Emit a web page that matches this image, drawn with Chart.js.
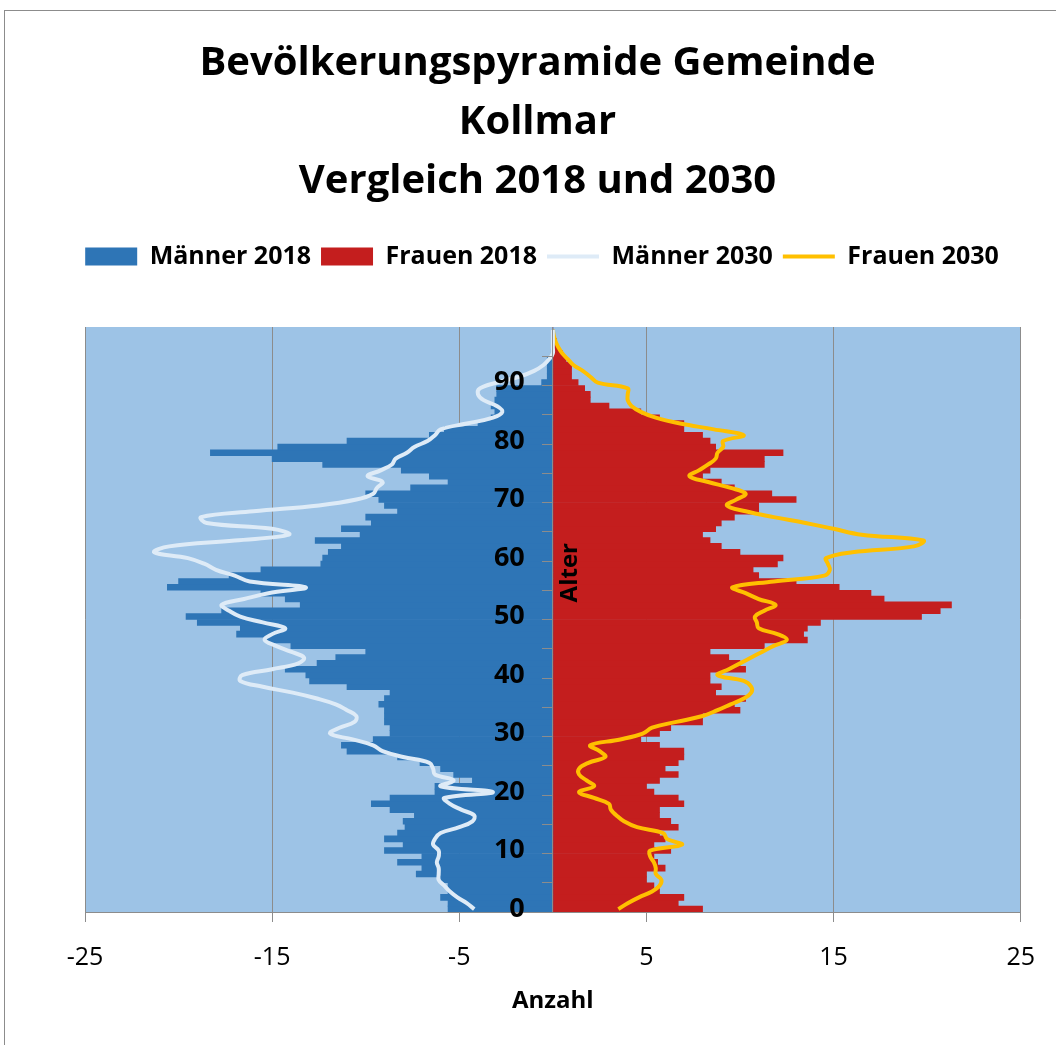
<!DOCTYPE html>
<html lang="de">
<head>
<meta charset="UTF-8">
<title>Bevölkerungspyramide Kollmar</title>
<script src="https://cdn.jsdelivr.net/npm/chart.js"></script>
<style>
  body { margin: 0; background: #fff; font-family: 'Open Sans', sans-serif; }
  .frame { position: absolute; left: 4px; top: 10px; width: 1100px; height: 1100px; border: 1px solid #8c8c8c; }
  .wrap { position: absolute; left: 0; top: 0; width: 1056px; height: 1045px; }
</style>
</head>
<body>
<div class="frame"></div>
<div class="wrap"><canvas id="pyramid"></canvas></div>
<script>
// Altersjahre 0..99 (Kategorien der y-Achse)
const ages = Array.from({ length: 100 }, (_, i) => String(i));

const maenner2018 = [
  -5.6, -5.6, -6.0, -5.6, -5.6, -6.0, -7.3, -7.0, -8.3, -7.0,
  -9.0, -8.0, -9.0, -8.3, -7.9, -8.0, -7.4, -8.7, -9.7, -8.7,
  -6.3, -6.3, -4.3, -5.3, -6.0, -7.1, -8.3, -11.0, -11.3, -9.6,
  -8.7, -8.7, -9.0, -9.0, -9.0, -9.3, -9.0, -8.7, -11.0, -13.0,
  -13.2, -14.3, -12.6, -11.6, -10.0, -14.0, -15.3, -16.9, -16.7, -19.0,
  -19.6, -17.7, -13.5, -14.3, -15.6, -20.6, -20.0, -17.3, -15.6, -12.4,
  -12.3, -12.0, -11.3, -12.7, -10.3, -11.3, -9.7, -10.0, -8.3, -9.0,
  -9.3, -10.0, -7.6, -5.6, -6.6, -8.1, -12.3, -15.0, -18.3, -14.7,
  -11.0, -6.6, -5.8, -4.0, -3.3, -3.1, -3.3, -3.1, -3.0, -3.0,
  -0.6, -0.3, -0.3, -0.3, -0.3, 0, 0, 0, 0, 0
];

const frauen2018 = [
  8.0, 6.7, 7.0, 5.7, 5.4, 5.0, 5.0, 6.0, 5.6, 5.4,
  6.3, 5.4, 6.0, 5.7, 6.7, 6.3, 5.7, 5.7, 7.0, 6.7,
  5.4, 5.0, 5.7, 6.7, 6.0, 6.7, 7.0, 7.0, 5.7, 4.7,
  5.7, 6.3, 8.0, 8.0, 10.0, 9.7, 10.3, 8.7, 9.0, 8.4,
  8.4, 10.3, 10.0, 9.4, 8.4, 11.3, 13.6, 13.4, 13.6, 14.3,
  19.7, 20.7, 21.3, 17.7, 17.0, 15.3, 13.0, 11.0, 10.7, 12.0,
  12.3, 10.0, 9.0, 8.4, 8.0, 8.7, 9.0, 9.7, 11.0, 11.0,
  13.0, 11.7, 9.7, 9.0, 8.0, 8.4, 11.3, 11.3, 12.3, 8.7,
  8.4, 8.0, 7.0, 7.0, 5.7, 4.7, 3.0, 2.0, 2.0, 1.7,
  1.35, 1.0, 1.0, 1.0, 0.7, 0.5, 0.3, 0.2, 0, 0
];

const maenner2030 = [
  -4.2, -4.6, -5.1, -5.5, -5.8, -6.1, -6.1, -6.1, -6.2, -6.1,
  -6.1, -6.4, -6.3, -6.0, -5.0, -4.3, -4.2, -4.9, -5.5, -5.8,
  -3.2, -6.0, -5.3, -6.3, -6.4, -6.6, -8.0, -9.1, -9.6, -10.7,
  -11.9, -11.4, -10.6, -10.5, -11.0, -11.6, -12.6, -13.9, -15.5, -16.7,
  -16.6, -15.0, -13.6, -13.3, -14.0, -14.8, -15.4, -15.0, -14.3, -15.5,
  -16.7, -17.3, -17.7, -16.5, -15.2, -13.2, -16.2, -17.0, -18.0, -18.6,
  -19.5, -21.3, -20.5, -17.0, -14.1, -15.0, -18.5, -18.8, -16.0, -12.5,
  -10.5, -9.6, -9.4, -9.1, -9.9, -9.2, -8.6, -8.4, -7.8, -7.4,
  -6.7, -6.3, -6.0, -4.6, -3.2, -2.7, -3.0, -3.7, -4.0, -3.9,
  -3.0, -1.8, -1.0, -0.5, -0.2, 0, 0, 0, 0, 0
];

const frauen2030 = [
  3.5, 4.0, 4.6, 5.3, 5.7, 5.8, 5.5, 5.5, 5.4, 5.2,
  5.2, 6.9, 6.1, 5.9, 4.5, 3.8, 3.4, 3.1, 3.0, 2.2,
  1.4, 2.2, 1.8, 1.4, 1.4, 1.9, 2.8, 2.5, 2.0, 3.6,
  4.8, 5.3, 6.6, 8.0, 8.8, 9.5, 10.2, 10.6, 10.6, 10.2,
  8.8, 9.4, 10.0, 10.6, 11.2, 11.8, 12.5, 12.0, 11.0, 10.9,
  10.8, 11.3, 11.9, 11.0, 10.3, 9.6, 11.8, 14.5, 14.8, 14.7,
  14.6, 16.0, 19.3, 19.8, 16.5, 15.0, 13.5, 11.8, 10.3, 9.3,
  9.8, 10.3, 9.5, 8.3, 7.3, 7.8, 8.3, 8.7, 8.8, 9.1,
  9.1, 10.2, 8.6, 6.8, 5.5, 4.7, 4.2, 4.0, 4.0, 4.0,
  2.4, 2.0, 1.6, 1.1, 0.8, 0.5, 0.3, 0.15, 0.05, 0
];

const xTickStep = 10;
const FONT = "'Open Sans'";

const plotBackground = {
  id: 'plotBackground',
  beforeDraw(chart) {
    const { ctx, chartArea: a } = chart;
    ctx.save();
    ctx.fillStyle = '#9dc3e6';
    ctx.fillRect(a.left, a.top, a.right - a.left, a.bottom - a.top);
    ctx.restore();
  }
};

// "Alter" rechts neben der Mittelachse
const alterLabel = {
  id: 'alterLabel',
  afterDatasetsDraw(chart) {
    const { ctx, chartArea: a, scales } = chart;
    const x = scales.x.getPixelForValue(0) + 17;
    const y = a.top + (a.bottom - a.top) * 0.42;
    ctx.save();
    ctx.translate(x, y);
    ctx.rotate(-Math.PI / 2);
    ctx.font = 'bold 24px ' + FONT;
    ctx.fillStyle = '#000';
    ctx.textAlign = 'center';
    ctx.textBaseline = 'middle';
    ctx.fillText('Alter', 0, 0);
    ctx.restore();
  }
};

// Abstand unter der Legende, Titel + Legende auf die Rahmenmitte zentrieren
const headerLayout = {
  id: 'headerLayout',
  beforeInit(chart) {
    const fit = chart.legend.fit;
    chart.legend.fit = function () {
      fit.bind(chart.legend)();
      this.height += 48;
    };
  },
  afterLayout(chart) {
    chart.titleBlock.left = 0;
    chart.titleBlock.right = 1075;
    chart.legend.left = 0;
    chart.legend.right = 1084;
  }
};

const ctx = document.getElementById('pyramid').getContext('2d');
new Chart(ctx, {
  data: {
    labels: ages,
    datasets: [
      {
        type: 'bar',
        label: 'Männer 2018',
        data: maenner2018,
        backgroundColor: '#2e75b6',
        borderWidth: 0,
        grouped: false,
        barPercentage: 1,
        categoryPercentage: 1,
        pointStyle: 'rect',
        order: 2
      },
      {
        type: 'bar',
        label: 'Frauen 2018',
        data: frauen2018,
        backgroundColor: '#c41e1e',
        borderWidth: 0,
        grouped: false,
        barPercentage: 1,
        categoryPercentage: 1,
        pointStyle: 'rect',
        order: 2
      },
      {
        type: 'line',
        label: 'Männer 2030',
        data: maenner2030,
        borderColor: '#deebf7',
        backgroundColor: '#deebf7',
        borderWidth: 4,
        pointRadius: 0,
        pointBorderWidth: 4,
        pointStyle: 'line',
        tension: 0.4,
        fill: false,
        order: 1
      },
      {
        type: 'line',
        label: 'Frauen 2030',
        data: frauen2030,
        borderColor: '#ffc000',
        backgroundColor: '#ffc000',
        borderWidth: 4,
        pointRadius: 0,
        pointBorderWidth: 4,
        pointStyle: 'line',
        tension: 0.4,
        fill: false,
        order: 1
      }
    ]
  },
  options: {
    indexAxis: 'y',
    responsive: true,
    maintainAspectRatio: false,
    animation: false,
    layout: { padding: { left: 85, right: 35, top: 0, bottom: 32 } },
    plugins: {
      title: {
        display: true,
        text: ['Bevölkerungspyramide Gemeinde', 'Kollmar', 'Vergleich 2018 und 2030'],
        color: '#000',
        font: { family: FONT, size: 40, weight: 'bold', lineHeight: 1.475 },
        padding: { top: 34, bottom: 23 }
      },
      legend: {
        position: 'top',
        labels: {
          usePointStyle: true,
          pointStyleWidth: 52,
          boxHeight: 18,
          padding: 10,
          color: '#000',
          font: { family: FONT, size: 25, weight: 'bold' },
          sort: (a, b) => a.datasetIndex - b.datasetIndex
        }
      },
      tooltip: { enabled: false }
    },
    scales: {
      x: {
        type: 'linear',
        min: -25,
        max: 25,
        ticks: {
          stepSize: xTickStep,
          color: '#000',
          padding: 21,
          font: { family: FONT, size: 25 }
        },
        grid: { color: '#8c8c8c', tickLength: 10 },
        border: { color: '#8c8c8c' },
        title: {
          display: true,
          text: 'Anzahl',
          color: '#000',
          font: { family: FONT, size: 24, weight: 'bold', lineHeight: 1.0 },
          padding: { top: -5, bottom: 0 }
        }
      },
      y: {
        type: 'category',
        reverse: true,
        offset: true,
        position: { x: 0 },
        ticks: {
          autoSkip: false,
          z: 1,
          color: '#000',
          font: { family: FONT, size: 27, weight: 'bold' },
          // Leerzeichen rücken die Beschriftung von der Mittelachse ab
          callback: (v, i) => (i % 10 === 0 ? ages[i] + '    ' : '')
        },
        grid: {
          z: 1,
          drawOnChartArea: false,
          offset: true,
          tickLength: 10,
          color: c => (c.index % 5 === 0 ? '#8c8c8c' : 'rgba(0,0,0,0)')
        },
        border: { z: 1, color: '#8c8c8c' }
      }
    }
  },
  plugins: [plotBackground, alterLabel, headerLayout]
});
</script>
</body>
</html>
